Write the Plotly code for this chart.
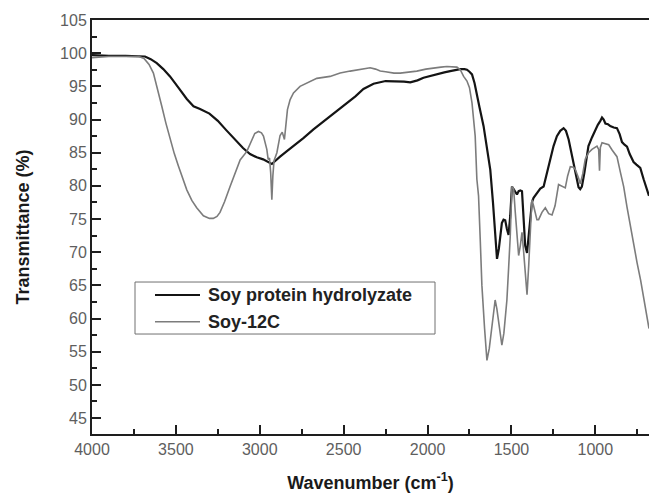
import plotly.graph_objects as go

# FTIR spectrum of the soy protein hydrolyzate (wavenumber in cm^-1, transmittance in %)
hydrolyzate_wn = [4000, 3950, 3900, 3800, 3720, 3684, 3650, 3614, 3575, 3535, 3485, 3435,
                  3395, 3356, 3300, 3250, 3200, 3150, 3100, 3058, 3018, 2980, 2958, 2940,
                  2928, 2915, 2900, 2879, 2840, 2799, 2740, 2680, 2630, 2581, 2530, 2481,
                  2430, 2382, 2322, 2250, 2183, 2140, 2103, 2060, 2024, 1980, 1944, 1900,
                  1865, 1830, 1805, 1780, 1765, 1750, 1735, 1720, 1706, 1690, 1666, 1646,
                  1626, 1610, 1596, 1586, 1575, 1565, 1557, 1547, 1537, 1527, 1517, 1507,
                  1497, 1487, 1477, 1467, 1457, 1447, 1437, 1427, 1418, 1407, 1397, 1388,
                  1378, 1368, 1348, 1328, 1308, 1288, 1268, 1249, 1229, 1209, 1189, 1175,
                  1159, 1145, 1130, 1115, 1100, 1090, 1080, 1065, 1050, 1041, 1020, 1000,
                  985, 970, 960, 950, 940, 925, 911, 890, 871, 855, 841, 826, 811, 795,
                  772, 755, 732, 712, 692, 680]
hydrolyzate_t = [99.7, 99.6, 99.6, 99.6, 99.6, 99.5, 99.1, 98.5, 97.6, 96.5, 94.8, 93.1,
                 92.0, 91.6, 90.9, 89.8, 88.4, 87.0, 85.7, 84.8, 84.3, 84.0, 83.7, 83.5,
                 83.3, 83.6, 84.0, 84.4, 85.2, 86.0, 87.2, 88.5, 89.5, 90.5, 91.5, 92.5,
                 93.5, 94.6, 95.4, 95.8, 95.8, 95.7, 95.6, 95.9, 96.3, 96.6, 96.9, 97.1,
                 97.3, 97.5, 97.6, 97.6, 97.5, 97.2, 96.8, 95.5, 94.0, 91.8, 89.0, 85.5,
                 82.4, 77.5, 72.0, 69.0, 70.5, 73.0, 74.4, 74.9, 74.8, 73.5, 72.6, 75.5,
                 79.9, 79.5, 79.0, 78.7, 79.2, 79.3, 79.2, 75.0, 71.0, 69.9, 72.5, 75.5,
                 77.5, 78.2, 79.0, 79.6, 79.9, 81.9, 84.0, 86.0, 87.5, 88.3, 88.7, 88.3,
                 87.0, 85.3, 83.5, 81.5, 79.8, 79.5, 79.9, 82.0, 84.5, 86.0, 87.3, 88.5,
                 89.2, 89.8, 90.3, 90.0, 89.4, 89.3, 89.0, 88.8, 88.7, 87.8, 86.6, 86.2,
                 85.9, 84.8, 83.6, 83.2, 82.7, 81.0, 79.4, 78.5]

# FTIR spectrum of Soy-12C
soy12c_wn = [4000, 3950, 3900, 3800, 3720, 3690, 3660, 3634, 3610, 3584, 3560, 3535,
             3510, 3485, 3460, 3435, 3405, 3376, 3336, 3300, 3277, 3255, 3237, 3210,
             3177, 3147, 3117, 3077, 3050, 3030, 3008, 2990, 2978, 2965, 2958, 2950,
             2942, 2935, 2928, 2922, 2915, 2898, 2879, 2866, 2853, 2843, 2835, 2819,
             2799, 2760, 2720, 2660, 2581, 2521, 2461, 2400, 2342, 2310, 2282, 2250,
             2200, 2163, 2110, 2064, 2010, 1964, 1920, 1885, 1850, 1825, 1805, 1785,
             1765, 1750, 1735, 1726, 1716, 1706, 1696, 1686, 1676, 1660, 1646, 1632,
             1616, 1605, 1597, 1587, 1577, 1567, 1557, 1545, 1527, 1517, 1507, 1497,
             1487, 1477, 1467, 1457, 1447, 1437, 1427, 1417, 1407, 1397, 1388, 1378,
             1368, 1348, 1338, 1318, 1298, 1278, 1258, 1240, 1219, 1199, 1179, 1165,
             1149, 1130, 1120, 1100, 1090, 1075, 1060, 1040, 1020, 990, 980, 975,
             970, 960, 940, 920, 900, 871, 850, 831, 811, 791, 771, 751, 730, 712,
             695, 680]
soy12c_t = [99.3, 99.4, 99.5, 99.5, 99.5, 99.2, 98.3, 97.0, 94.8, 92.0, 89.5, 87.0,
            84.9, 83.0, 81.1, 79.4, 77.8, 76.7, 75.5, 75.1, 75.1, 75.4, 76.0, 77.6,
            79.9, 82.0, 83.9, 85.2, 86.8, 87.9, 88.2, 88.0, 87.5, 86.3, 85.5, 84.0,
            84.2, 82.0, 77.9, 81.5, 83.8, 85.0, 87.6, 88.1, 87.0, 89.5, 91.5, 93.0,
            94.0, 95.0, 95.5, 96.2, 96.5, 97.0, 97.3, 97.5, 97.8, 97.6, 97.3, 97.2,
            97.0, 97.0, 97.1, 97.3, 97.6, 97.8, 97.9, 98.0, 98.0, 97.9, 97.5, 96.5,
            95.8, 94.8, 92.5, 90.0, 87.5, 81.0, 78.5, 72.0, 65.0, 58.5, 53.7, 55.5,
            58.8, 61.8, 62.8, 61.5, 59.8, 57.5, 56.0, 57.8, 62.8, 67.5, 72.4, 79.9,
            79.6, 76.0, 72.0, 69.5, 71.0, 73.0, 70.0, 66.0, 63.6, 68.0, 73.5, 77.9,
            77.0, 74.9, 74.9, 76.0, 76.7, 75.8, 75.6, 77.0, 80.2, 80.0, 79.7, 81.5,
            82.9, 82.8, 82.5, 81.2, 80.3, 81.8, 84.0, 85.0, 85.5, 86.0, 85.5, 82.3,
            85.8, 86.5, 86.4, 86.2, 85.4, 84.4, 82.0, 79.9, 76.8, 73.9, 71.2, 68.4, 65.8, 63.3,
            60.8, 58.5]

x_ticks = [4000, 3500, 3000, 2500, 2000, 1500, 1000]
y_ticks = [45, 50, 55, 60, 65, 70, 75, 80, 85, 90, 95, 100, 105]

series_names = ["Soy protein hydrolyzate", "Soy-12C"]
series_colors = ["#141414", "#7c7c7c"]
series_widths = [2.2, 1.6]

FONT = "Liberation Sans, Arial, sans-serif"

fig = go.Figure()
for wn, t, name, color, width in zip([hydrolyzate_wn, soy12c_wn], [hydrolyzate_t, soy12c_t],
                                     series_names, series_colors, series_widths):
    fig.add_trace(go.Scatter(x=wn, y=t, mode="lines", name=name,
                             line=dict(color=color, width=width), showlegend=False))

axis_common = dict(
    showgrid=False, zeroline=False,
    showline=True, linecolor="#1e1e1e", linewidth=2,
    ticks="inside", ticklen=9, tickwidth=2, tickcolor="#1e1e1e",
    tickfont=dict(family=FONT, size=16, color="#5e5e5e"),
)

fig.update_xaxes(
    **axis_common,
    range=[4000, 680],
    tickvals=x_ticks,
    mirror=True,
    minor=dict(ticks="inside", ticklen=5, tickwidth=2, tickcolor="#1e1e1e", dtick=250, tick0=0),
    title=dict(text="<b>Wavenumber (cm<sup>-1</sup>)</b>",
               font=dict(family=FONT, size=18, color="#1a1a1a"), standoff=19),
)
fig.update_yaxes(
    **axis_common,
    range=[42.6, 105],
    tickvals=y_ticks,
    minor=dict(ticks="inside", ticklen=5, tickwidth=2, tickcolor="#1e1e1e", dtick=2.5, tick0=0),
    title=dict(text="<b>Transmittance (%)</b>",
               font=dict(family=FONT, size=18, color="#1a1a1a"), standoff=26),
)

# Boxed legend in the lower-left part of the plot area
legend_box = dict(x0=0.0772, x1=0.6158, y0=0.2415, y1=0.3671)
legend_rows_y = [0.3357, 0.2713]
legend_line_x = (0.1131, 0.1939)
legend_text_x = 0.2047

shapes = [dict(type="rect", xref="paper", yref="paper", **legend_box,
               line=dict(color="#707070", width=1), fillcolor="white", layer="above")]
annotations = []
for ry, name, color, width in zip(legend_rows_y, series_names, series_colors, series_widths):
    shapes.append(dict(type="line", xref="paper", yref="paper",
                       x0=legend_line_x[0], x1=legend_line_x[1], y0=ry, y1=ry,
                       line=dict(color=color, width=width), layer="above"))
    annotations.append(dict(xref="paper", yref="paper", x=legend_text_x, y=ry,
                            xanchor="left", yanchor="middle", showarrow=False,
                            text=f"<b>{name}</b>",
                            font=dict(family=FONT, size=18, color="#222222")))

fig.update_layout(
    width=649, height=497,
    margin=dict(l=92, r=0, t=20, b=63),
    paper_bgcolor="white", plot_bgcolor="white",
    shapes=shapes, annotations=annotations,
)

fig.write_html("out.html")
